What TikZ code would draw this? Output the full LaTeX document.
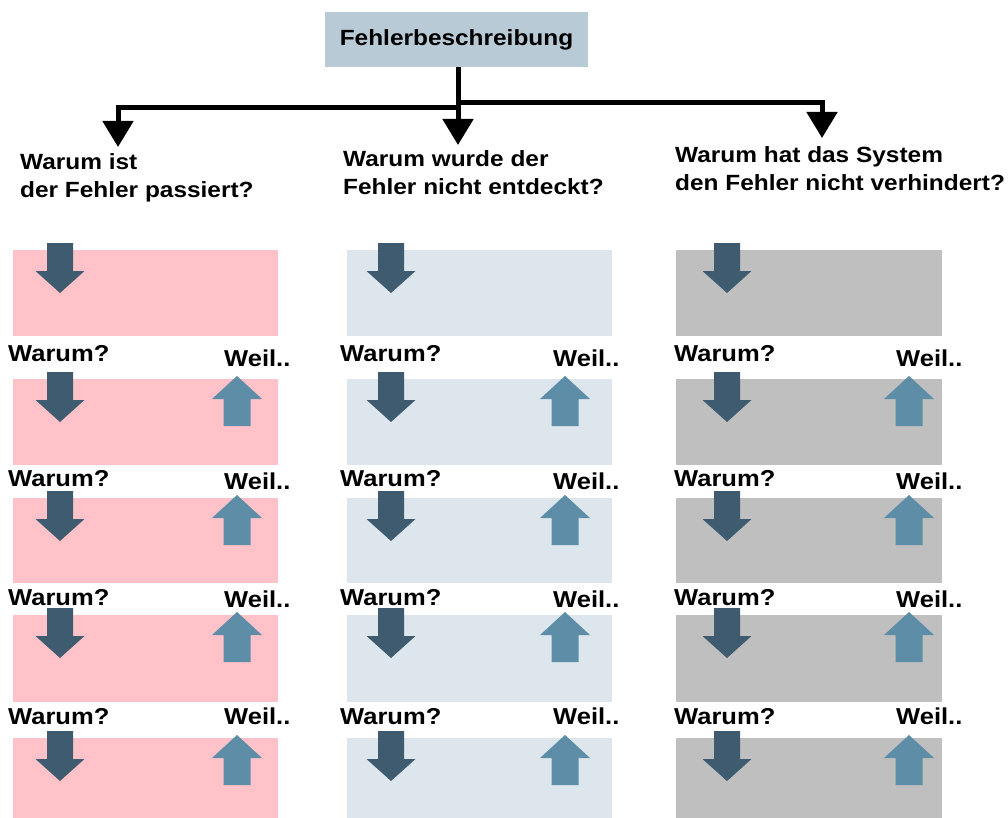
\documentclass[tikz,border=0pt]{standalone}
\usepackage{fontspec}
\setmainfont[FakeStretch=1.11]{Liberation Sans}
\usetikzlibrary{arrows.meta}
\definecolor{topbox}{HTML}{B8CAD6}
\definecolor{pinkc}{HTML}{FFC2C8}
\definecolor{bluec}{HTML}{DEE6ED}
\definecolor{grayc}{HTML}{BFBFBF}
\definecolor{darkarr}{HTML}{3E5B70}
\definecolor{lightarr}{HTML}{5E8DA8}
\tikzset{
  qtext/.style={anchor=west,align=left,inner sep=0pt,font=\bfseries\fontsize{22}{28}\selectfont},
  lbl/.style={anchor=west,inner sep=0pt,font=\bfseries\fontsize{23}{28}\selectfont},
  conn/.style={line width=5pt,-{Triangle[width=30pt,length=26pt]}},
  downarrow/.pic={\fill[darkarr] (-13,0) -- (13,0) -- (13,28) -- (24.5,28) -- (0,50) -- (-24.5,28) -- (-13,28) -- cycle;},
  uparrow/.pic={\fill[lightarr] (-13.5,50) -- (13.5,50) -- (13.5,23) -- (25,23) -- (0,0) -- (-25,23) -- (-13.5,23) -- cycle;}
}
\begin{document}
\begin{tikzpicture}[x=1pt,y=-1pt]
\useasboundingbox (0,0) rectangle (1008,818);
% top box
\node[fill=topbox,minimum width=263pt,minimum height=55pt,inner sep=0pt,font=\bfseries\fontsize{22}{26}\selectfont] (fb) at (456.5,39.5) {Fehlerbeschreibung};
% connectors
\coordinate (jl) at (458,108);
\coordinate (jr) at (458,103);
\coordinate (tl) at (118,147);
\coordinate (tm) at (458,145);
\coordinate (tr) at (822,138);
\draw[line width=5pt] (fb.south -| tm) -- (jl);
\draw[conn] (jl) -- (tm);
\draw[conn] (jl) -| (tl);
\draw[conn] (jr) -| (tr);
% questions
\node[qtext] (q1) at (20,178) {Warum ist\\der Fehler passiert?};
\node[qtext] (q2) at (343,173) {Warum wurde der\\Fehler nicht entdeckt?};
\node[qtext] (q3) at (675,169) {Warum hat das System\\den Fehler nicht verhindert?};
% rows
\foreach \c/\xl/\xr/\dx/\ux/\wx/\wex/\col in {1/13/278/60/237/8/224/pinkc, 2/347/612/391/565/340/553/bluec, 3/676/942/727/909/674/896/grayc}{
  \foreach \r/\T/\B in {1/250/336, 2/379/465, 3/498/583, 4/615/702, 5/738/818}{
    \fill[\col] (\xl,\T) rectangle (\xr,\B);
    \pic at (\dx,\T-7) {downarrow};
    \ifnum\r>1
      \pic at (\ux,\T-3) {uparrow};
    \fi
  }
  \foreach \r/\wy/\ey in {1/354/358, 2/479/481, 3/598/599, 4/717/716}{
    \node[lbl] (w\c\r) at (\wx,\wy) {Warum?};
    \node[lbl] (e\c\r) at (\wex,\ey) {Weil..};
  }
}
\end{tikzpicture}
\end{document}
